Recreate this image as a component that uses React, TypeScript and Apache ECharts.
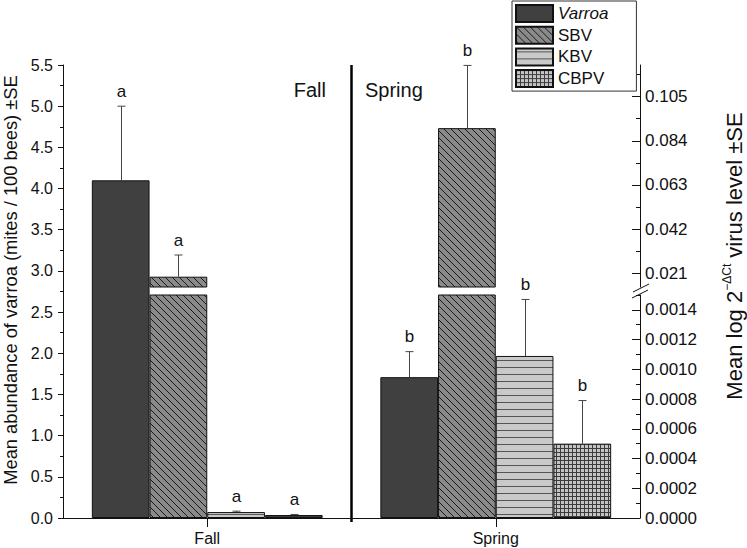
import React, { useEffect, useRef } from "react";
import * as echarts from "echarts";

const FONT = "Liberation Sans, Arial, sans-serif";

const categories = ["Fall", "Spring"];
const varroaMean = [4.1, 1.71];
const varroaSE = [0.9, 0.31];
const sbvMean = [0.0194, 0.09];
const sbvSE = [0.0103, 0.0298];
const kbvMean = [0.00004, 0.00109];
const kbvSE = [0.000006, 0.00038];
const cbpvMean = [0.00002, 0.0005];
const cbpvSE = [0.000004, 0.00029];
const varroaLetters = ["a", "b"];
const sbvLetters = ["a", "b"];
const kbvLetters = ["a", "b"];
const cbpvLetters = ["a", "b"];
const lowerTicks = [0, 0.0002, 0.0004, 0.0006, 0.0008, 0.001, 0.0012, 0.0014];
const upperTicks = [0.021, 0.042, 0.063, 0.084, 0.105];
const legendNames = ["Varroa", "SBV", "KBV", "CBPV"];

function makeCanvas(w: number, h: number) {
  const c = document.createElement("canvas");
  c.width = w;
  c.height = h;
  return c;
}

function diagPattern() {
  const s = 7;
  const c = makeCanvas(s, s);
  const g = c.getContext("2d")!;
  g.fillStyle = "#8a8a8a";
  g.fillRect(0, 0, s, s);
  g.strokeStyle = "#1a1a1a";
  g.lineWidth = 1;
  g.beginPath();
  g.moveTo(0, 0);
  g.lineTo(s, s);
  g.moveTo(-1, s - 1);
  g.lineTo(1, s + 1);
  g.moveTo(s - 1, -1);
  g.lineTo(s + 1, 1);
  g.stroke();
  return { image: c, repeat: "repeat" };
}

function horizPattern() {
  const c = makeCanvas(7, 7);
  const g = c.getContext("2d")!;
  g.fillStyle = "#c9c9c9";
  g.fillRect(0, 0, 7, 7);
  g.fillStyle = "#555555";
  g.fillRect(0, 3, 7, 1);
  return { image: c, repeat: "repeat" };
}

function gridPattern() {
  const c = makeCanvas(4, 4);
  const g = c.getContext("2d")!;
  g.fillStyle = "#c4c4c4";
  g.fillRect(0, 0, 4, 4);
  g.fillStyle = "#3c3c3c";
  g.fillRect(0, 0, 4, 1);
  g.fillRect(0, 0, 1, 4);
  return { image: c, repeat: "repeat" };
}

export default function App() {
  const ref = useRef<HTMLDivElement>(null);

  useEffect(() => {
    document.body.style.margin = "0";
    const chart = echarts.init(ref.current!, null, { renderer: "svg" });

    const styles: Record<string, any> = {
      Varroa: { color: "#404040", borderColor: "#111", borderWidth: 1 },
      SBV: { color: diagPattern(), borderColor: "#111", borderWidth: 1 },
      KBV: { color: horizPattern(), borderColor: "#111", borderWidth: 1 },
      CBPV: { color: gridPattern(), borderColor: "#111", borderWidth: 1 },
    };

    const barCommon = { barGap: "0%", barCategoryGap: "20%", silent: true };
    const bar = (name: string, xi: number, yi: number, data: any[]) => ({
      type: "bar",
      name,
      xAxisIndex: xi,
      yAxisIndex: yi,
      data,
      itemStyle: styles[name] || { color: "transparent" },
      ...barCommon,
    });
    const empty = ["-", "-"];

    const errSeries = (
      xi: number,
      yi: number,
      means: number[],
      ses: number[],
      letters: string[],
      slot: number
    ) => ({
      type: "custom",
      xAxisIndex: xi,
      yAxisIndex: yi,
      silent: true,
      clip: false,
      z: 5,
      data: means.map((m, i) => [i, m, ses[i]]),
      renderItem: (params: any, api: any) => {
        const i = api.value(0);
        const m = api.value(1);
        const se = api.value(2);
        const band = api.size([1, 0])[0];
        const p0 = api.coord([i, m]);
        const p1 = api.coord([i, m + se]);
        const x = Math.round(p0[0] + (slot - 1.5) * band * 0.2) + 0.5;
        const lineStyle = { stroke: "#454545", lineWidth: 1 };
        return {
          type: "group",
          children: [
            { type: "line", shape: { x1: x, y1: p0[1], x2: x, y2: p1[1] }, style: lineStyle },
            { type: "line", shape: { x1: x - 4, y1: p1[1], x2: x + 4, y2: p1[1] }, style: lineStyle },
            {
              type: "text",
              x,
              y: p1[1] - 15,
              style: {
                text: letters[params.dataIndex],
                fill: "#111",
                fontSize: 17,
                fontFamily: FONT,
                align: "center",
                verticalAlign: "middle",
              },
            },
          ],
        };
      },
    });

    const lowerMinor = lowerTicks.slice(0, -1).map((v, i) => (v + lowerTicks[i + 1]) / 2).concat([0.0015]);
    const upperMinor = upperTicks.map((v) => v + 0.0105);

    const rightAxis = (grid: number, min: number, max: number, ticks: number[], digits: number) => ({
      type: "value",
      gridIndex: grid,
      position: "right",
      min,
      max,
      axisLine: { show: true, onZero: false, lineStyle: { color: "#111", width: 1 } },
      axisTick: { show: true, inside: true, length: 8, customValues: ticks, lineStyle: { color: "#111" } },
      axisLabel: {
        show: true,
        customValues: ticks,
        margin: 5,
        fontSize: 17,
        fontFamily: FONT,
        color: "#111",
        formatter: (v: number) => v.toFixed(digits),
      },
      splitLine: { show: false },
    });
    const minorAxis = (grid: number, min: number, max: number, ticks: number[]) => ({
      type: "value",
      gridIndex: grid,
      position: "right",
      min,
      max,
      axisLine: { show: false, onZero: false },
      axisTick: { show: true, inside: true, length: 4, customValues: ticks, lineStyle: { color: "#111" } },
      axisLabel: { show: false },
      splitLine: { show: false },
    });

    const gridBase = { left: 63, width: 577, containLabel: false };

    chart.setOption({
      animation: false,
      backgroundColor: "#fff",
      grid: [
        { ...gridBase, top: 65, height: 453 },
        { ...gridBase, top: 295, height: 223 },
        { ...gridBase, top: 65, height: 222 },
      ],
      xAxis: [
        {
          type: "category",
          gridIndex: 0,
          data: categories,
          axisLine: { show: true, onZero: false, lineStyle: { color: "#111", width: 1 } },
          axisTick: { show: true, alignWithLabel: true, length: 9, lineStyle: { color: "#111" } },
          axisLabel: { fontSize: 16, fontFamily: FONT, color: "#111", margin: 12 },
        },
        { type: "category", gridIndex: 1, data: categories, show: false },
        { type: "category", gridIndex: 2, data: categories, show: false },
      ],
      yAxis: [
        {
          type: "value",
          gridIndex: 0,
          position: "left",
          min: 0,
          max: 5.5,
          interval: 0.5,
          axisLine: { show: true, onZero: false, lineStyle: { color: "#111", width: 1 } },
          axisTick: { show: true, length: 5, lineStyle: { color: "#111" } },
          minorTick: { show: true, splitNumber: 2, length: 3, lineStyle: { color: "#111" } },
          axisLabel: {
            fontSize: 16,
            fontFamily: FONT,
            color: "#111",
            margin: 10,
            formatter: (v: number) => v.toFixed(1),
          },
          splitLine: { show: false },
        },
        rightAxis(1, 0, 0.0015, lowerTicks, 4),
        minorAxis(1, 0, 0.0015, lowerMinor),
        rightAxis(2, 0.0145, 0.12, upperTicks, 3),
        minorAxis(2, 0.0145, 0.12, upperMinor),
      ],
      legend: {
        data: legendNames,
        orient: "vertical",
        left: 512,
        top: 1,
        padding: [3, 28, 3, 3],
        itemGap: 2.7,
        itemWidth: 37,
        itemHeight: 17,
        icon: "rect",
        selectedMode: false,
        borderColor: "#333",
        borderWidth: 1,
        backgroundColor: "#fff",
        formatter: (n: string) => (n === "Varroa" ? "{i|Varroa}" : n),
        textStyle: {
          fontSize: 17,
          lineHeight: 18,
          fontFamily: FONT,
          color: "#111",
          rich: { i: { fontStyle: "italic", fontSize: 17, lineHeight: 18, fontFamily: FONT, color: "#111" } },
        },
      },
      series: [
        bar("Varroa", 0, 0, varroaMean),
        bar("_a1", 0, 0, empty),
        bar("_a2", 0, 0, empty),
        bar("_a3", 0, 0, empty),
        bar("_b0", 1, 1, empty),
        bar("SBV", 1, 1, sbvMean),
        bar("KBV", 1, 1, kbvMean),
        bar("CBPV", 1, 1, cbpvMean),
        bar("_c0", 2, 3, empty),
        bar("SBV", 2, 3, sbvMean),
        bar("_c2", 2, 3, empty),
        bar("_c3", 2, 3, empty),
        errSeries(0, 0, varroaMean, varroaSE, varroaLetters, 0),
        errSeries(2, 3, sbvMean, sbvSE, sbvLetters, 1),
        errSeries(1, 1, kbvMean, kbvSE, kbvLetters, 2),
        errSeries(1, 1, cbpvMean, cbpvSE, cbpvLetters, 3),
      ],
      graphic: [
        {
          type: "line",
          shape: { x1: 351.5, y1: 65, x2: 351.5, y2: 522 },
          style: { stroke: "#000", lineWidth: 2.5 },
        },
        {
          type: "line",
          shape: { x1: 632, y1: 298, x2: 648, y2: 290 },
          style: { stroke: "#111", lineWidth: 1 },
        },
        {
          type: "line",
          shape: { x1: 633, y1: 292, x2: 649, y2: 284 },
          style: { stroke: "#111", lineWidth: 1 },
        },
        {
          type: "text",
          x: 326,
          y: 90,
          style: { text: "Fall", fontSize: 20, fontFamily: FONT, fill: "#111", align: "right", verticalAlign: "middle" },
        },
        {
          type: "text",
          x: 365,
          y: 90,
          style: { text: "Spring", fontSize: 20, fontFamily: FONT, fill: "#111", align: "left", verticalAlign: "middle" },
        },
        {
          type: "text",
          x: 10,
          y: 280,
          rotation: Math.PI / 2,
          style: {
            text: "Mean abundance of varroa (mites / 100 bees) ±SE",
            fontSize: 18.3,
            fontFamily: FONT,
            fill: "#111",
            align: "center",
            verticalAlign: "middle",
          },
        },
        {
          type: "text",
          x: 733,
          y: 256,
          rotation: Math.PI / 2,
          style: {
            text: "{n|Mean log 2}{s|−ΔCt}{n| virus level ±SE}",
            align: "center",
            verticalAlign: "middle",
            rich: {
              n: { fontSize: 22, fontFamily: FONT, fill: "#111", color: "#111", lineHeight: 24, verticalAlign: "bottom" },
              s: { fontSize: 12, fontFamily: FONT, fill: "#111", color: "#111", lineHeight: 24, verticalAlign: "top" },
            },
          },
        },
      ],
    });

    return () => chart.dispose();
  }, []);

  return <div ref={ref} style={{ width: 747, height: 548 }} />;
}
